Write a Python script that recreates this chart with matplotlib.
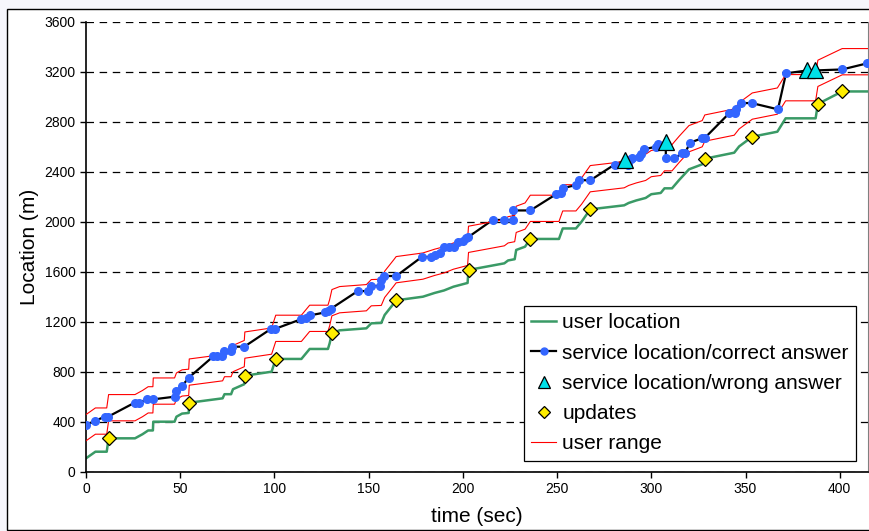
import matplotlib.pyplot as plt
from matplotlib.patches import Rectangle

plt.rcParams['font.family'] = ['Liberation Sans', 'DejaVu Sans']

# user location (green)
user_t = [0, 5, 11, 12, 26, 30, 33, 35.5, 35.7, 47,
          48, 51, 54.5, 54.8, 72.5, 73.5, 77, 78, 84, 84.3,
          98.5, 100.7, 114.3, 118.7, 128.4, 129.3, 130.5, 134.6, 148.8, 151.4,
          156.7, 158.5, 163.4, 164.6, 178.8, 185, 190, 195, 200, 202.5,
          203, 222, 224, 227.5, 228.3, 233, 235.8, 251, 253, 260,
          263, 267.6, 285.6, 288, 292, 297, 300, 305, 307, 311,
          314.8, 320, 327, 328.4, 344, 346.6, 353.6, 366.9, 371.3, 387.2,
          388.4, 401.3, 415]
user_loc = [107, 160, 160, 267, 267, 300, 330, 330, 400, 400,
            440, 465, 470, 552, 587, 620, 620, 660, 700, 768,
            800, 902, 902, 982, 982, 1027, 1107, 1131, 1147, 1187,
            1190, 1254, 1347, 1371, 1400, 1430, 1450, 1480, 1500, 1510,
            1614, 1667, 1690, 1700, 1774, 1800, 1862, 1862, 1946, 1946,
            2000, 2099, 2131, 2150, 2170, 2190, 2220, 2230, 2267, 2267,
            2334, 2419, 2459, 2504, 2552, 2602, 2680, 2720, 2827, 2827,
            2942, 3042, 3042]

# user range (red), same time stamps as user location
range_low = [247, 300, 300, 407, 407, 440, 470, 470, 540, 540,
             580, 605, 610, 692, 727, 760, 760, 800, 840, 908,
             940, 1042, 1042, 1122, 1122, 1167, 1247, 1271, 1287, 1327,
             1330, 1394, 1487, 1511, 1540, 1570, 1590, 1620, 1640, 1650,
             1754, 1807, 1830, 1840, 1914, 1940, 2002, 2002, 2086, 2086,
             2140, 2239, 2271, 2290, 2310, 2330, 2360, 2370, 2407, 2407,
             2474, 2559, 2599, 2644, 2692, 2742, 2820, 2860, 2967, 2967,
             3082, 3175, 3175]
range_high = [457, 510, 510, 617, 617, 650, 680, 680, 750, 750,
              790, 815, 820, 902, 937, 970, 970, 1010, 1050, 1118,
              1150, 1252, 1252, 1332, 1332, 1377, 1457, 1481, 1497, 1537,
              1540, 1604, 1697, 1721, 1750, 1780, 1800, 1830, 1850, 1860,
              1964, 2017, 2040, 2050, 2124, 2150, 2212, 2212, 2296, 2296,
              2350, 2449, 2481, 2500, 2520, 2540, 2570, 2580, 2617, 2617,
              2684, 2769, 2809, 2854, 2902, 2952, 3030, 3070, 3177, 3177,
              3292, 3385, 3385]

# service location (black line through all answers)
svc_t = [0, 4.8, 9.9, 11.7, 25.8, 28.1, 32.2, 35.7, 47, 47.7,
         51, 54.6, 67.5, 69.5, 72, 73.3, 76.7, 77.7, 84, 98.2,
         100.4, 114.2, 116.8, 118.7, 127.1, 128.6, 130, 144.2, 149.9, 151.2,
         155.9, 156.7, 158.1, 164.6, 178.2, 183.2, 185, 187.6, 190.2, 192.9,
         195.5, 197.3, 200, 201.8, 202.7, 215.8, 222, 226.8, 226.8, 235.8,
         249.4, 252, 252.9, 260, 261.4, 267.5, 280.5, 286, 287.5,
         289.2, 290, 293.6, 294.5, 296.2, 302.4, 303.3, 307.7, 307.7, 312,
         316.5, 318, 320.5, 326.8, 328.4, 341.3, 344.3, 344.8, 347.8, 353.3,
         367.2, 371.5, 382.8, 386.8, 401.3, 414.6]
svc_loc = [374, 406, 440, 440, 552, 552, 579, 579, 600, 642,
           686, 753, 922, 922, 922, 966, 966, 1000, 1000, 1143,
           1143, 1220, 1227, 1250, 1275, 1288, 1304, 1445, 1445, 1486,
           1486, 1534, 1566, 1565, 1718, 1718, 1730, 1747, 1795, 1795,
           1800, 1835, 1848, 1867, 1875, 2014, 2014, 2014, 2090, 2090,
           2219, 2227, 2267, 2294, 2334, 2330, 2457, 2490, 2452,
           2499, 2507, 2520, 2542, 2579, 2600, 2622, 2634, 2507, 2507,
           2547, 2550, 2632, 2667, 2670, 2867, 2872, 2904, 2949, 2949,
           2899, 3187, 3210, 3210, 3218, 3267]

# wrong answers (cyan triangles)
wrong_t = [286, 307.7, 382.8, 386.8]
wrong_loc = [2490, 2634, 3210, 3210]

# updates (yellow diamonds)
upd_t = [12, 54.8, 84.3, 100.7, 130.5, 164.6, 203, 235.8, 267.6, 328.4, 353.6, 388.4, 401.3]
upd_loc = [267, 552, 768, 902, 1107, 1371, 1614, 1862, 2099, 2504, 2680, 2942, 3042]

yticks = [0, 400, 800, 1200, 1600, 2000, 2400, 2800, 3200, 3600]
xticks = [0, 50, 100, 150, 200, 250, 300, 350, 400]


def main():
    wrong = set(zip(wrong_t, wrong_loc))
    ok_pts = [(t, v) for t, v in zip(svc_t, svc_loc) if (t, v) not in wrong]
    ok_t = [p[0] for p in ok_pts]
    ok_loc = [p[1] for p in ok_pts]

    fig = plt.figure(figsize=(8.7, 5.31), dpi=100, facecolor='#f6f6fc')
    frame = Rectangle((7.5 / 870, 1.5 / 531), 1.0, 1 - 10 / 531,
                      transform=fig.transFigure, facecolor='white',
                      edgecolor='black', linewidth=1.0, zorder=-10)
    fig.add_artist(frame)
    ax = fig.add_axes([86 / 870, 1 - 471.7 / 531, 782 / 870, 450 / 531])

    ax.yaxis.grid(True, color='black', linestyle=(0, (6, 4.5)), linewidth=0.9)
    ax.set_axisbelow(True)

    ax.plot(user_t, user_loc, color='#3a9a66', linewidth=1.8, zorder=2)
    ax.plot(svc_t, svc_loc, color='black', linewidth=1.6, zorder=3)
    ax.plot(ok_t, ok_loc, linestyle='none', marker='o', markersize=5.5,
            color='#3366ff', markeredgecolor='#3366ff', zorder=4)
    ax.plot(user_t, range_low, color='red', linewidth=0.8, zorder=3)
    ax.plot(user_t, range_high, color='red', linewidth=0.8, zorder=3)
    ax.plot(wrong_t, wrong_loc, linestyle='none', marker='^', markersize=11,
            color='#00e0e8', markeredgecolor='black', markeredgewidth=0.9, zorder=5)
    ax.plot(upd_t, upd_loc, linestyle='none', marker='D', markersize=7.5,
            color='#ffee00', markeredgecolor='black', markeredgewidth=0.9, zorder=5)

    # legend handles
    h_user, = ax.plot([], [], color='#3a9a66', linewidth=1.8)
    h_svc, = ax.plot([], [], color='black', linewidth=1.6, marker='o',
                     markersize=5, markerfacecolor='#3366ff', markeredgecolor='#3366ff')
    h_wrong, = ax.plot([], [], linestyle='none', marker='^', markersize=9,
                       color='#00e0e8', markeredgecolor='black', markeredgewidth=0.9)
    h_upd, = ax.plot([], [], linestyle='none', marker='D', markersize=6.5,
                     color='#ffee00', markeredgecolor='black', markeredgewidth=0.9)
    h_rng, = ax.plot([], [], color='red', linewidth=0.8)
    leg = ax.legend([h_user, h_svc, h_wrong, h_upd, h_rng],
                    ['user location', 'service location/correct answer',
                     'service location/wrong answer', 'updates', 'user range'],
                    loc='lower right', bbox_to_anchor=(0.985, 0.024),
                    borderaxespad=0, fontsize=15, frameon=True, fancybox=False,
                    handlelength=1.2, handletextpad=0.3, labelspacing=0.54,
                    borderpad=0.36, framealpha=1)
    leg.get_frame().set_edgecolor('black')
    leg.get_frame().set_linewidth(0.9)

    ax.set_xlim(0, 415)
    ax.set_ylim(0, 3600)
    ax.set_xticks(xticks)
    ax.set_yticks(yticks)
    ax.tick_params(labelsize=10, direction='out', length=4, width=1, colors='black')
    ax.spines['top'].set_visible(False)
    ax.spines['right'].set_color('#808080')
    ax.spines['right'].set_linewidth(0.8)
    ax.spines['left'].set_linewidth(1.2)
    ax.spines['bottom'].set_linewidth(1.2)

    ax.set_xlabel('time (sec)', fontsize=15, labelpad=8)
    ax.set_ylabel('Location (m)', fontsize=15, labelpad=4)

    fig.savefig('out.png', dpi=100, facecolor=fig.get_facecolor())


if __name__ == '__main__':
    main()
